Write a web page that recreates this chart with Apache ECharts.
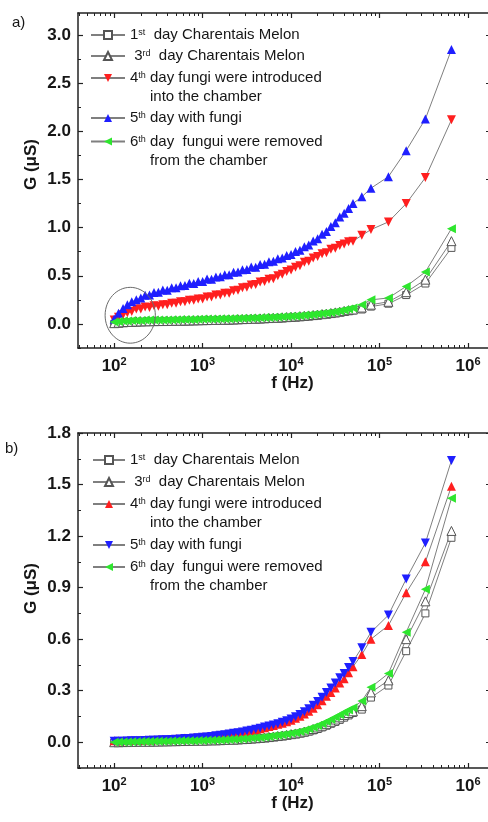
<!DOCTYPE html>
<html><head><meta charset="utf-8">
<script src="https://cdn.jsdelivr.net/npm/echarts@6/dist/echarts.min.js"></script>
<style>html,body{margin:0;padding:0;background:#fff}#c{width:488px;height:822px}</style>
</head><body><div id="c"></div>
<script>
// ---------- data ----------
const freqHz = [100,112,126,141,158,178,200,224,251,282,
  316,355,398,447,501,562,631,708,794,891,
  1000,1122,1259,1413,1585,1778,1995,2239,2512,2818,
  3162,3548,3981,4467,5012,5623,6310,7079,7943,8913,
  10000,11220,12589,14125,15849,17783,19953,22387,25119,28184,
  31623,35481,39811,44668,50119,
  63000,80000,126000,200000,330000,650000];

// panel a)
const aDay1 = [0.0,0.005,0.01,0.012,0.015,0.017,0.018,0.02,0.02,0.021,
  0.022,0.022,0.023,0.024,0.025,0.026,0.027,0.028,0.029,0.03,
  0.031,0.032,0.033,0.034,0.035,0.036,0.037,0.038,0.04,0.041,
  0.042,0.044,0.046,0.048,0.05,0.052,0.054,0.056,0.058,0.061,
  0.064,0.067,0.07,0.074,0.078,0.082,0.087,0.092,0.097,0.103,
  0.11,0.117,0.125,0.133,0.14,
  0.15,0.18,0.21,0.30,0.42,0.79];
const aDay3 = [0.008,0.012,0.017,0.02,0.022,0.024,0.026,0.027,0.028,0.029,
  0.03,0.03,0.031,0.032,0.033,0.034,0.035,0.036,0.037,0.038,
  0.039,0.04,0.041,0.042,0.043,0.044,0.045,0.047,0.048,0.05,
  0.051,0.053,0.055,0.057,0.059,0.061,0.063,0.065,0.068,0.071,
  0.074,0.077,0.08,0.084,0.088,0.092,0.097,0.102,0.107,0.113,
  0.12,0.127,0.135,0.143,0.15,
  0.17,0.20,0.23,0.33,0.46,0.86];
const aDay4 = [0.04,0.07,0.095,0.115,0.13,0.155,0.155,0.175,0.17,0.19,
  0.185,0.20,0.20,0.215,0.215,0.23,0.23,0.245,0.245,0.26,
  0.26,0.28,0.28,0.30,0.30,0.32,0.32,0.345,0.35,0.375,
  0.38,0.405,0.41,0.435,0.44,0.465,0.47,0.50,0.515,0.545,
  0.56,0.59,0.605,0.64,0.65,0.685,0.70,0.73,0.74,0.775,
  0.785,0.815,0.83,0.855,0.86,
  0.92,0.98,1.06,1.25,1.52,2.12];
const aDay5 = [0.05,0.11,0.16,0.20,0.23,0.25,0.27,0.297,0.30,0.327,
  0.33,0.352,0.35,0.377,0.375,0.397,0.40,0.422,0.42,0.442,
  0.44,0.467,0.465,0.487,0.49,0.512,0.51,0.537,0.54,0.562,
  0.565,0.592,0.59,0.617,0.62,0.647,0.65,0.677,0.685,0.712,
  0.72,0.752,0.765,0.802,0.82,0.862,0.885,0.932,0.96,1.012,
  1.05,1.112,1.15,1.20,1.25,
  1.32,1.41,1.53,1.80,2.13,2.85];
const aDay6 = [0.02,0.025,0.03,0.03,0.035,0.035,0.035,0.04,0.04,0.04,
  0.04,0.04,0.042,0.043,0.044,0.045,0.045,0.046,0.047,0.048,
  0.05,0.05,0.051,0.052,0.053,0.054,0.055,0.056,0.057,0.058,
  0.06,0.061,0.062,0.064,0.066,0.068,0.07,0.072,0.074,0.077,
  0.08,0.083,0.086,0.09,0.094,0.098,0.103,0.108,0.113,0.12,
  0.127,0.135,0.145,0.155,0.165,
  0.20,0.25,0.27,0.39,0.54,0.99];

// panel b)
const bDay1 = [-0.002,-0.001,-0.001,0.0,0.0,0.001,0.001,0.002,0.002,0.002,
  0.003,0.003,0.004,0.004,0.005,0.005,0.006,0.006,0.007,0.007,
  0.008,0.009,0.009,0.010,0.011,0.012,0.013,0.014,0.015,0.016,
  0.018,0.019,0.021,0.023,0.025,0.027,0.030,0.032,0.035,0.039,
  0.042,0.046,0.051,0.056,0.062,0.069,0.077,0.086,0.096,0.107,
  0.118,0.13,0.143,0.156,0.17,
  0.19,0.26,0.33,0.53,0.75,1.19];
const bDay3 = [0.0,0.0,0.001,0.001,0.002,0.002,0.003,0.003,0.003,0.004,
  0.004,0.005,0.005,0.006,0.006,0.007,0.007,0.008,0.008,0.009,
  0.009,0.010,0.011,0.011,0.012,0.013,0.014,0.015,0.016,0.018,
  0.019,0.021,0.023,0.025,0.027,0.030,0.033,0.036,0.039,0.043,
  0.047,0.051,0.056,0.062,0.069,0.077,0.086,0.096,0.107,0.119,
  0.132,0.145,0.158,0.17,0.18,
  0.21,0.29,0.36,0.60,0.82,1.23];
const bDay4 = [0.008,0.009,0.009,0.010,0.011,0.012,0.012,0.013,0.014,0.015,
  0.016,0.017,0.018,0.019,0.021,0.022,0.024,0.025,0.027,0.029,
  0.032,0.034,0.036,0.039,0.042,0.045,0.049,0.052,0.056,0.060,
  0.064,0.069,0.074,0.079,0.085,0.091,0.097,0.104,0.111,0.119,
  0.128,0.139,0.151,0.165,0.18,0.198,0.218,0.242,0.268,0.29,
  0.315,0.345,0.37,0.405,0.44,
  0.51,0.60,0.68,0.87,1.05,1.49];
const bDay5 = [0.005,0.006,0.006,0.007,0.008,0.009,0.009,0.010,0.011,0.012,
  0.013,0.014,0.015,0.016,0.018,0.019,0.021,0.022,0.024,0.026,
  0.029,0.031,0.034,0.037,0.040,0.044,0.048,0.052,0.055,0.060,
  0.065,0.070,0.075,0.081,0.088,0.094,0.10,0.108,0.116,0.125,
  0.135,0.148,0.162,0.178,0.195,0.215,0.237,0.262,0.29,0.315,
  0.345,0.375,0.40,0.435,0.47,
  0.55,0.64,0.74,0.95,1.16,1.64];
const bDay6 = [0.0,0.001,0.002,0.002,0.003,0.003,0.004,0.004,0.004,0.005,
  0.005,0.006,0.006,0.007,0.007,0.008,0.008,0.009,0.009,0.010,
  0.010,0.011,0.012,0.013,0.013,0.014,0.016,0.017,0.018,0.020,
  0.022,0.024,0.026,0.028,0.031,0.034,0.037,0.040,0.044,0.048,
  0.052,0.057,0.063,0.07,0.078,0.087,0.097,0.108,0.12,0.133,
  0.147,0.16,0.175,0.188,0.20,
  0.24,0.32,0.40,0.64,0.89,1.42];

// ticks
const xMajorTicks = [100,1000,10000,100000,1000000];
const xMinorTicks = [40,50,60,70,80,90,
  200,300,400,500,600,700,800,900,
  2000,3000,4000,5000,6000,7000,8000,9000,
  20000,30000,40000,50000,60000,70000,80000,90000,
  200000,300000,400000,500000,600000,700000,800000,900000];
const aYTicks = [0,0.5,1,1.5,2,2.5,3];
const aYMinor = [-0.25,0.25,0.75,1.25,1.75,2.25,2.75];
const bYTicks = [0,0.3,0.6,0.9,1.2,1.5,1.8];
const bYMinor = [-0.15,0.15,0.45,0.75,1.05,1.35,1.65];

const legendText = {
  a1: '1{sup|st}  day Charentais Melon', b1: '1{sup|st}  day Charentais Melon',
  a3: ' 3{sup|rd}  day Charentais Melon', b3: ' 3{sup|rd}  day Charentais Melon',
  a4: '4{sup|th} day fungi were introduced\n{ind| }into the chamber',
  b4: '4{sup|th} day fungi were introduced\n{ind| }into the chamber',
  a5: '5{sup|th} day with fungi', b5: '5{sup|th} day with fungi',
  a6: '6{sup|th} day  fungui were removed\n{ind| }from the chamber',
  b6: '6{sup|th} day  fungui were removed\n{ind| }from the chamber'
};
const circleBox = {fMin: 79, fMax: 292, gMin: -0.2, gMax: 0.38};

// ---------- styling helpers ----------
const FONT = '"Liberation Sans", Arial, Helvetica, sans-serif';
const INK = '#161616';
const AXIS = '#222';
const LINE_GRAY = '#7f7f7f';
const RED = '#ff1f1f', BLUE = '#1f1fff', GREEN = '#2ee62e';

function xAxes(gi) {
  const base = {type: 'log', logBase: 10, min: 39, max: 1820000, gridIndex: gi,
    splitLine: {show: false}, minorSplitLine: {show: false}};
  const lineOn = {show: true, onZero: false, lineStyle: {color: AXIS, width: 1.5}};
  return [
    Object.assign({}, base, {position: 'bottom', axisLine: lineOn,
      axisTick: {show: true, inside: true, length: 5, customValues: xMajorTicks, lineStyle: {color: AXIS, width: 1.2}},
      axisLabel: {show: true, customValues: xMajorTicks, margin: 8,
        formatter: v => '{b|10}{s|' + Math.round(Math.log10(v)) + '}',
        rich: {b: {fontFamily: FONT, fontSize: 17, fontWeight: 'bold', color: INK},
               s: {fontFamily: FONT, fontSize: 11, fontWeight: 'bold', color: INK, verticalAlign: 'bottom', padding: [0, 0, 9, 0]}}},
      name: 'f (Hz)', nameLocation: 'middle', nameGap: 27, nameMoveOverlap: false,
      nameTextStyle: {fontFamily: FONT, fontSize: 17, fontWeight: 'bold', color: INK, padding: [0, 0, 0, 16]}}),
    Object.assign({}, base, {position: 'bottom', axisLine: {show: false, onZero: false},
      axisTick: {show: true, inside: true, length: 3, customValues: xMinorTicks, lineStyle: {color: AXIS, width: 1}},
      axisLabel: {show: false}}),
    Object.assign({}, base, {position: 'top', axisLine: lineOn,
      axisTick: {show: true, inside: true, length: 5, customValues: xMajorTicks, lineStyle: {color: AXIS, width: 1.2}},
      axisLabel: {show: false}}),
    Object.assign({}, base, {position: 'top', axisLine: {show: false, onZero: false},
      axisTick: {show: true, inside: true, length: 3, customValues: xMinorTicks, lineStyle: {color: AXIS, width: 1}},
      axisLabel: {show: false}})
  ];
}

function yAxes(gi, min, max, majors, minors, shiftUp) {
  const base = {type: 'value', gridIndex: gi, min, max, splitLine: {show: false}};
  const lineOn = {show: true, onZero: false, lineStyle: {color: AXIS, width: 1.5}};
  const mk = (pos, ticks, len, withLine, labels) => Object.assign({}, base, {
    position: pos, axisLine: withLine ? lineOn : {show: false, onZero: false},
    axisTick: {show: true, inside: true, length: len, customValues: ticks, lineStyle: {color: AXIS, width: len > 4 ? 1.2 : 1}},
    axisLabel: labels ? {show: true, customValues: ticks, margin: 7, formatter: v => v.toFixed(1),
      fontFamily: FONT, fontSize: 17, fontWeight: 'bold', color: INK} : {show: false}
  });
  const main = mk('left', majors, 5, true, true);
  Object.assign(main, {name: 'G (\u03bcS)', nameLocation: 'middle', nameGap: 38, nameMoveOverlap: false,
    nameTextStyle: {fontFamily: FONT, fontSize: 17, fontWeight: 'bold', color: INK, padding: [0, 0, 0, shiftUp * 2]}});
  return [main, mk('left', minors, 3, false, false), mk('right', majors, 5, true, false), mk('right', minors, 3, false, false)];
}

function pts(ys) { return freqHz.map((f, i) => [f, ys[i]]); }

function mkSeries(name, ys, gi, symbol, rot, color, hollow) {
  return {
    name, type: 'line', xAxisIndex: gi * 4, yAxisIndex: gi * 4, data: pts(ys),
    symbol, symbolRotate: rot, symbolSize: symbol === 'rect' ? 7 : 9, showAllSymbol: true,
    lineStyle: {color: LINE_GRAY, width: 1},
    itemStyle: hollow ? {color: '#ffffff', borderColor: '#555', borderWidth: 1} : {color, borderWidth: 0},
    emphasis: {disabled: true}, silent: true, animation: false
  };
}

function legendItem(name, left, top, width, multi) {
  return {
    show: true, orient: 'vertical', left, top, padding: 0, itemWidth: width, itemHeight: 10, itemGap: 0,
    selectedMode: false,
    data: [{name, textStyle: multi ? {padding: [19, 0, 0, 0]} : {}}],
    formatter: n => legendText[n],
    textStyle: {fontFamily: FONT, fontSize: 15, color: INK, lineHeight: 19,
      rich: {sup: {fontSize: 9, verticalAlign: 'bottom', padding: [0, 0, 7, 0]}, ind: {width: 20}}}
  };
}

const option = {
  backgroundColor: '#fff',
  animation: false,
  grid: [
    {left: 78, top: 13, right: -3, height: 335, outerBoundsMode: 'none', containLabel: false},
    {left: 78, top: 433, right: -3, height: 335, outerBoundsMode: 'none', containLabel: false}
  ],
  xAxis: xAxes(0).concat(xAxes(1)),
  yAxis: yAxes(0, -0.25, 3.23, aYTicks, aYMinor, 16).concat(yAxes(1, -0.15, 1.8, bYTicks, bYMinor, 12)),
  legend: [
    legendItem('a1', 90, 25.5, 34, false),
    legendItem('a3', 90, 46.5, 34, false),
    legendItem('a4', 90, 49.5, 34, true),
    legendItem('a5', 90, 108.5, 34, false),
    legendItem('a6', 90, 113, 34, true),
    legendItem('b1', 92, 450.5, 32, false),
    legendItem('b3', 92, 472.5, 32, false),
    legendItem('b4', 92, 475.5, 32, true),
    legendItem('b5', 92, 535.5, 32, false),
    legendItem('b6', 92, 538.5, 32, true)
  ],
  series: [
    mkSeries('a1', aDay1, 0, 'rect', 0, null, true),
    mkSeries('a3', aDay3, 0, 'triangle', 0, null, true),
    mkSeries('a4', aDay4, 0, 'triangle', 180, RED, false),
    mkSeries('a5', aDay5, 0, 'triangle', 0, BLUE, false),
    mkSeries('a6', aDay6, 0, 'triangle', 90, GREEN, false),
    mkSeries('b1', bDay1, 1, 'rect', 0, null, true),
    mkSeries('b3', bDay3, 1, 'triangle', 0, null, true),
    mkSeries('b4', bDay4, 1, 'triangle', 0, RED, false),
    mkSeries('b5', bDay5, 1, 'triangle', 180, BLUE, false),
    mkSeries('b6', bDay6, 1, 'triangle', 90, GREEN, false)
  ],
  graphic: [
    {id: 'pa', type: 'text', left: 12, top: 15, style: {text: 'a)', fontFamily: FONT, fontSize: 15, fill: INK}},
    {id: 'pb', type: 'text', left: 5, top: 441, style: {text: 'b)', fontFamily: FONT, fontSize: 15, fill: INK}}
  ]
};

const chart = echarts.init(document.getElementById('c'), null, {renderer: 'canvas'});
chart.setOption(option);
const p1 = chart.convertToPixel({xAxisIndex: 0, yAxisIndex: 0}, [circleBox.fMin, circleBox.gMax]);
const p2 = chart.convertToPixel({xAxisIndex: 0, yAxisIndex: 0}, [circleBox.fMax, circleBox.gMin]);
chart.setOption({graphic: [{id: 'circ', type: 'ellipse', z: 100,
  shape: {cx: (p1[0] + p2[0]) / 2, cy: (p1[1] + p2[1]) / 2, rx: Math.abs(p2[0] - p1[0]) / 2, ry: Math.abs(p2[1] - p1[1]) / 2},
  style: {fill: 'none', stroke: '#6a6a6a', lineWidth: 1}}]});
</script>
</body></html>
